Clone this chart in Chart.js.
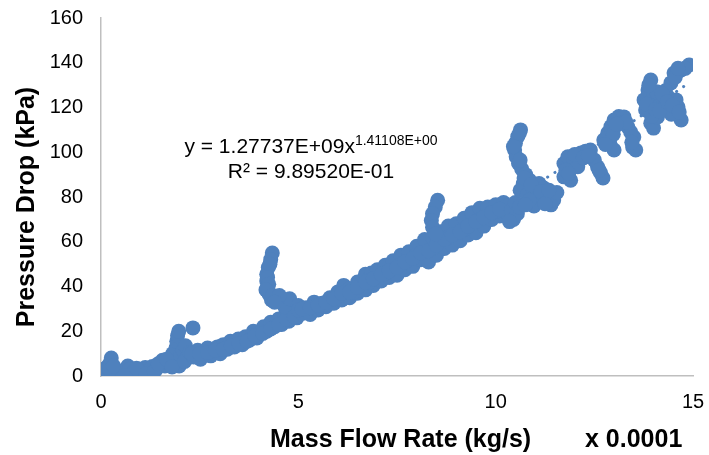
<!DOCTYPE html>
<html>
<head>
<meta charset="utf-8">
<title>Pressure Drop vs Mass Flow Rate</title>
<script src="https://cdn.jsdelivr.net/npm/chart.js@4.4.1/dist/chart.umd.min.js"></script>
<style>
    html, body { margin: 0; padding: 0; background: #fff; }
    #wrap { width: 709px; height: 455px; }
</style>
</head>
<body>
<div id="wrap"><canvas id="myChart" width="709" height="455"></canvas></div>
<script>
// Measured points: mass flow in units of 1e-4 kg/s, pressure drop in kPa
const massFlow = [
    // low flow, near the origin
    0.05, 0.08, 0.12, 0.15, 0.20, 0.26, 0.30, 0.35, 0.40, 0.45,
    0.50, 0.55, 0.62, 0.68, 0.72, 0.78, 0.85, 0.92, 1.00, 1.08,
    1.12, 1.22, 1.30, 1.40, 1.50, 1.56, 1.62, 1.70, 1.76, 1.82,
    1.86, 1.90, 1.92, 1.94, 1.97, 1.98, 2.02, 2.08, 2.14, 2.18, 2.33,
    0.10, 0.22, 0.32, 0.60, 0.90, 1.15, 1.35, 1.45, 1.66, 1.80, 2.12,
    // 2.2 - 5
    2.25, 2.35, 2.45, 2.52, 2.60, 2.70, 2.78, 2.86, 2.95, 3.02,
    3.10, 3.20, 3.28, 3.38, 3.48, 3.58, 3.66, 3.76, 3.86, 3.95,
    4.04, 4.12, 4.20, 4.30, 4.40, 4.50, 4.58, 4.66, 4.76, 4.86, 4.96,
    2.30, 2.50, 2.70, 2.90, 3.10, 3.30, 3.50, 3.70, 3.90, 4.10,
    4.30, 4.50, 4.70, 4.90,
    // spike near 4.3
    4.34, 4.30, 4.24, 4.20, 4.20, 4.22, 4.26, 4.32, 4.45, 4.58, 4.66, 4.78,
    4.28, 4.22, 4.25, 4.18, 4.35, 4.52, 4.40,
    // 5 - 10.3, upper edge
    5.00, 5.20, 5.40, 5.60, 5.80, 6.00, 6.15, 6.30, 6.50, 6.70,
    6.85, 7.00, 7.20, 7.40, 7.60, 7.80, 8.00, 8.20, 8.40, 8.60,
    8.80, 9.00, 9.20, 9.40, 9.60, 9.80, 10.00, 10.20, 10.30,
    // 5 - 10.3, lower edge
    4.90, 5.10, 5.30, 5.50, 5.70, 5.90, 6.10, 6.30, 6.50, 6.70,
    6.90, 7.10, 7.30, 7.50, 7.70, 7.90, 8.10, 8.30, 8.50, 8.70,
    8.90, 9.10, 9.30, 9.50, 9.70, 9.90, 10.10, 10.30,
    // 5 - 10, middle
    5.00, 5.50, 6.00, 6.40, 6.80, 7.20, 7.60, 8.00, 8.40, 8.80, 9.20, 9.60, 10.00,
    5.10, 5.30, 5.50, 5.70, 5.90, 6.10, 6.30, 6.50, 6.70, 6.90,
    7.10, 7.30, 7.50, 7.70, 7.90, 8.10, 8.30, 8.50, 8.70, 8.90,
    9.10, 9.30, 9.50, 9.70, 9.90, 10.10,
    // spike near 8.5
    8.53, 8.47, 8.40, 8.37, 8.40, 8.48,
    // spike near 10.6 and the run down to 11.5
    10.40, 10.45, 10.55, 10.50, 10.63, 10.56, 10.50, 10.48, 10.52, 10.58,
    10.66, 10.76, 10.86, 10.70, 10.62, 10.80, 10.95, 11.05, 10.97, 11.10,
    11.22, 11.30, 11.40, 11.47, 11.55,
    10.60, 10.45, 10.62, 10.72, 10.90, 10.85, 11.15, 11.25, 11.35, 10.35,
    10.60, 10.75,
    // 11.7 - 12.8
    11.73, 11.83, 11.73, 11.90, 11.98, 12.08, 12.16, 12.28, 12.40, 12.50,
    12.58, 12.66, 12.72,
    11.78, 12.00, 12.22, 12.35, 12.62, 11.85,
    // 12.7 - 13.6
    12.74, 12.84, 12.92, 13.00, 13.12, 13.25, 13.35, 13.42, 13.50, 13.47,
    13.55, 12.90, 13.00, 12.80,
    12.98, 13.18, 13.30, 13.45, 13.06, 12.78,
    // 13.7 - 14.9
    13.76, 13.86, 13.93, 13.80, 13.93, 14.00, 14.10, 14.00, 14.19, 14.27,
    14.37, 14.44, 14.52, 14.70, 14.90, 14.62, 14.70, 14.57, 14.08, 14.30,
    13.90, 14.45,
    13.82, 13.88, 13.95, 14.05, 14.15, 14.22, 14.35, 14.48, 14.55, 14.65,
    14.80, 14.62
];

const pressureDrop = [
    2.5, 1.0, 3.5, 0.5, 5.0, 8.0, 2.0, 0.3, 2.5, 0.5,
    1.8, 0.3, 2.0, 4.5, 3.0, 1.0, 2.2, 1.0, 3.0, 1.8,
    3.8, 2.5, 4.2, 3.0, 5.0, 7.0, 4.5, 6.0, 8.0, 10.0,
    6.0, 12.5, 15.5, 18.0, 20.0, 4.5, 9.0, 11.5, 13.5, 8.0, 21.5,
    0.2, 2.5, 4.5, 0.2, 3.5, 1.0, 2.0, 5.5, 7.5, 4.0, 6.5,

    10.5, 8.5, 11.5, 7.5, 10.5, 12.5, 9.0, 11.0, 13.0, 10.0,
    14.0, 12.0, 15.5, 13.0, 16.5, 14.0, 17.5, 16.0, 20.0, 17.0,
    19.5, 22.0, 20.0, 24.0, 22.0, 25.5, 23.0, 27.0, 24.5, 28.5, 26.0,
    10.0, 10.0, 10.5, 11.5, 12.0, 13.5, 14.5, 15.5, 18.0, 19.0,
    21.0, 23.0, 25.5, 28.0,

    55.0, 52.0, 48.5, 45.5, 42.5, 39.5, 36.5, 34.0, 34.5, 34.0, 31.0, 34.5,
    50.0, 44.0, 41.0, 38.5, 36.0, 36.0, 33.0,

    31.5, 30.5, 33.0, 32.5, 35.0, 37.5, 40.5, 39.0, 42.0, 45.5,
    46.0, 47.5, 49.5, 51.5, 54.0, 55.5, 58.0, 61.0, 62.0, 64.5,
    67.0, 68.0, 70.5, 73.0, 75.0, 75.5, 76.5, 77.5, 76.0,

    26.5, 28.0, 27.5, 29.5, 31.0, 32.5, 34.0, 35.0, 37.0, 38.5,
    40.5, 42.5, 44.0, 45.0, 47.5, 49.0, 52.0, 51.0, 54.0, 57.0,
    58.5, 60.5, 63.0, 64.0, 67.0, 70.0, 71.5, 72.5,

    29.5, 31.0, 35.5, 37.5, 42.0, 46.0, 50.0, 54.5, 57.0, 62.0, 65.5, 70.0, 73.5,
    30.0, 30.5, 31.5, 33.0, 34.5, 37.0, 37.5, 39.5, 42.0, 43.5,
    45.5, 47.0, 48.5, 51.0, 52.5, 55.0, 56.0, 58.5, 61.0, 63.0,
    64.5, 67.0, 69.0, 71.0, 73.0, 74.5,

    78.5, 75.5, 72.5, 69.5, 66.5, 63.5,

    74.0, 70.0, 72.5, 77.5, 110.0, 107.0, 104.0, 101.0, 98.0, 95.0,
    92.5, 90.0, 87.5, 86.0, 83.0, 81.0, 83.5, 80.0, 76.0, 86.0,
    84.0, 80.0, 76.5, 78.7, 82.0,
    108.5, 102.5, 96.5, 88.5, 85.5, 78.5, 82.5, 77.0, 83.0, 69.0,
    75.5, 76.5,

    95.0, 98.0, 89.0, 87.5, 96.5, 93.5, 99.7, 100.5, 101.0, 96.5,
    93.5, 90.7, 88.5,
    92.0, 99.0, 97.5, 98.5, 92.0, 90.5,

    105.5, 108.6, 111.5, 114.4, 116.0, 115.8, 111.3, 109.0, 106.8, 102.3,
    101.0, 103.5, 101.0, 106.0,
    108.0, 113.0, 113.5, 104.5, 112.5, 103.5,

    123.4, 127.8, 132.3, 118.9, 113.0, 110.8, 115.8, 124.7, 122.0, 120.2,
    124.7, 131.0, 135.4, 136.8, 139.0, 120.2, 114.4, 123.4, 127.0, 127.5,
    121.0, 117.0,
    121.5, 130.0, 116.0, 119.0, 118.5, 126.0, 122.5, 121.0, 133.5, 118.0,
    137.5, 137.5
];

// Power-law fit y = a * m^b, with m in kg/s and y in Pa
const trendCoef = 1.27737E+09;
const trendExp = 1.41108E+00;
const trendStart = 0.05;
const trendEnd = 14.9;

const xTicksStep = 5;
const yTicksStep = 20;

const xTitle = 'Mass Flow Rate (kg/s)';
const xScaleNote = 'x 0.0001';
const yTitle = 'Pressure Drop (kPa)';
const eqMain = 'y = 1.27737E+09x';
const eqPower = '1.41108E+00';
const eqR2 = 'R² = 9.89520E-01';

const BLUE = '#4F81BD';
const FONT = '"Liberation Sans", Arial, Helvetica, sans-serif';

const puntos = massFlow.map((m, i) => ({ x: m, y: pressureDrop[i] }));

// trendline sampled along the data range, kPa on the axis
const trendData = [];
for (let m = trendStart; m <= trendEnd + 1e-9; m += 0.05) {
    const y = trendCoef * Math.pow(m * 1e-4, trendExp) / 1000;
    trendData.push({ x: m, y: y });
}

// Axis titles and fit equation
const textosPlugin = {
    id: 'textos',
    afterDraw(chart) {
        const ctx = chart.ctx;
        ctx.save();
        ctx.fillStyle = '#000';
        ctx.textBaseline = 'alphabetic';

        ctx.font = 'bold 25px ' + FONT;
        ctx.textAlign = 'left';
        ctx.fillText(xTitle, 270, 447);
        ctx.fillText(xScaleNote, 585, 447);

        ctx.save();
        ctx.translate(34, 207);
        ctx.rotate(-Math.PI / 2);
        ctx.textAlign = 'center';
        ctx.fillText(yTitle, 0, 0);
        ctx.restore();

        // equation, centred over the second line
        const cx = 311;
        ctx.font = '21px ' + FONT;
        const wMain = ctx.measureText(eqMain).width;
        ctx.font = '14px ' + FONT;
        const wPow = ctx.measureText(eqPower).width;
        const x0 = cx - (wMain + wPow) / 2;
        ctx.textAlign = 'left';
        ctx.font = '21px ' + FONT;
        ctx.fillText(eqMain, x0, 153);
        ctx.font = '14px ' + FONT;
        ctx.fillText(eqPower, x0 + wMain, 145);
        ctx.font = '21px ' + FONT;
        ctx.textAlign = 'center';
        ctx.fillText(eqR2, cx, 178);

        ctx.restore();
    }
};

const config = {
    type: 'scatter',
    data: {
        datasets: [{
            label: 'Pressure Drop',
            data: puntos,
            backgroundColor: BLUE,
            borderColor: BLUE,
            borderWidth: 0,
            pointRadius: 7.5,
            pointHoverRadius: 7.5
        }, {
            label: 'Power trend',
            type: 'line',
            data: trendData,
            borderColor: BLUE,
            borderWidth: 3,
            borderDash: [0.1, 8.5],
            borderCapStyle: 'round',
            pointRadius: 0,
            fill: false,
            tension: 0
        }]
    },
    options: {
        responsive: false,
        animation: false,
        events: [],
        layout: {
            autoPadding: false,
            padding: { top: 18, right: 16, bottom: 0, left: 0 }
        },
        plugins: {
            legend: { display: false },
            tooltip: { enabled: false }
        },
        scales: {
            x: {
                type: 'linear',
                min: 0,
                max: 15,
                grid: { display: false, drawTicks: false },
                border: { display: true, color: '#bfbfbf', width: 1.5 },
                ticks: {
                    stepSize: xTicksStep,
                    padding: 14,
                    color: '#000',
                    font: { family: FONT, size: 20 }
                },
                afterFit: (scale) => {
                    scale.height = 79;
                    scale.paddingLeft = 0;
                    scale.paddingRight = 0;
                }
            },
            y: {
                type: 'linear',
                min: 0,
                max: 160,
                grid: { display: false, drawTicks: false },
                border: { display: true, color: '#bfbfbf', width: 1.5 },
                ticks: {
                    stepSize: yTicksStep,
                    padding: 18,
                    color: '#000',
                    font: { family: FONT, size: 20 }
                },
                afterFit: (scale) => {
                    scale.width = 101;
                    scale.paddingTop = 0;
                    scale.paddingBottom = 0;
                }
            }
        }
    },
    plugins: [textosPlugin]
};

const myChart = new Chart(document.getElementById('myChart'), config);
</script>
</body>
</html>
